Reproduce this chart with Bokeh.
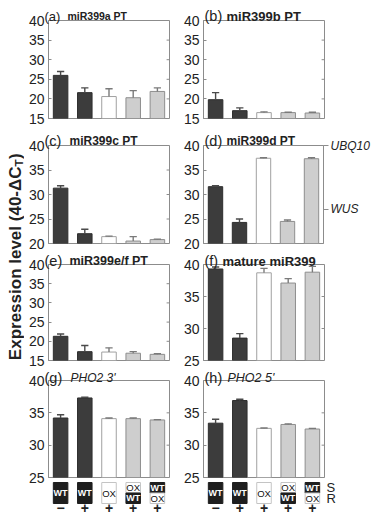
import math
from bokeh.plotting import figure
from bokeh.layouts import row, column
from bokeh.models import (FactorRange, Range1d, LinearAxis, FixedTicker,
                          CustomJSTickFormatter, ColumnDataSource)
from bokeh.transform import dodge
from bokeh.core.properties import value
from bokeh.embed import file_html
from bokeh.resources import INLINE

# ---------------- data ----------------
categories = ["WT/WT −", "WT/WT +", "OX/OX +", "OX/WT +", "WT/OX +"]
scion = ["WT", "WT", "OX", "OX", "WT"]
rootstock = ["WT", "WT", "OX", "WT", "OX"]
treatment = ["−", "+", "+", "+", "+"]

panel_ids = ["(a)", "(b)", "(c)", "(d)", "(e)", "(f)", "(g)", "(h)"]
panel_names = ["miR399a PT", "miR399b PT", "miR399c PT", "miR399d PT",
               "miR399e/f PT", "mature miR399", "PHO2 3'", "PHO2 5'"]
y_starts = [15, 15, 20, 20, 15, 25, 25, 25]
y_end = 40

mir399a_pt = [26.0, 21.6, 20.6, 20.3, 21.9]
mir399a_pt_err = [1.0, 1.2, 2.0, 1.8, 0.9]
mir399b_pt = [19.8, 17.0, 16.5, 16.5, 16.4]
mir399b_pt_err = [1.8, 0.7, 0.2, 0.1, 0.2]
mir399c_pt = [31.3, 22.0, 21.4, 20.5, 20.8]
mir399c_pt_err = [0.5, 0.9, 0.1, 0.9, 0.1]
mir399d_pt = [31.6, 24.3, 37.4, 24.5, 37.3]
mir399d_pt_err = [0.2, 0.7, 0.1, 0.3, 0.2]
mir399ef_pt = [21.3, 17.3, 17.2, 16.9, 16.6]
mir399ef_pt_err = [0.6, 1.6, 1.1, 0.4, 0.2]
mature_mir399 = [39.3, 28.5, 38.7, 37.1, 38.8]
mature_mir399_err = [0.3, 0.7, 0.7, 0.7, 0.9]
pho2_3 = [34.2, 37.3, 34.1, 34.1, 33.9]
pho2_3_err = [0.5, 0.1, 0.1, 0.1, 0.05]
pho2_5 = [33.4, 36.9, 32.6, 33.2, 32.5]
pho2_5_err = [0.6, 0.2, 0.05, 0.1, 0.1]

reference_genes = ["WUS", "UBQ10"]
reference_levels = [27.0, 40.0]

values = [mir399a_pt, mir399b_pt, mir399c_pt, mir399d_pt,
          mir399ef_pt, mature_mir399, pho2_3, pho2_5]
errors = [mir399a_pt_err, mir399b_pt_err, mir399c_pt_err, mir399d_pt_err,
          mir399ef_pt_err, mature_mir399_err, pho2_3_err, pho2_5_err]

# ---------------- style ----------------
FONT = "Liberation Sans"
FRAME_COLOR = "#8c8c8c"
TEXT_COLOR = "#222222"
COL_W = [152, 196]
COL_B = [(24, 7), (27, 48)]
ROWS = [(127, 20, 9), (123, 18, 7), (117, 14, 7), (147, 13, 37)]
TITLE_LIFT = [4.5, 4.5, 3.5, 3.0]
YLAB_W = 24

bar_fill = ["#3c3c3c", "#3c3c3c", "#ffffff", "#cecece", "#cecece"]
bar_line = ["#2e2e2e", "#2e2e2e", "#a0a0a0", "#8e8e8e", "#8e8e8e"]
err_line = ["#4a4a4a", "#4a4a4a", "#7a7a7a", "#7a7a7a", "#7a7a7a"]
geno_fill = {"WT": "#1e1e1e", "OX": "#ffffff"}
geno_line = {"WT": "#1e1e1e", "OX": "#c4c4c4"}
geno_text = {"WT": "#ffffff", "OX": "#111111"}

id_size = ["13px", "14.5px", "14.5px", "14.5px", "14.5px", "14.5px", "14.5px", "14.5px"]
name_size = ["10.5px", "13px", "12px", "12px", "12.5px", "13px", "12px", "12.5px"]
name_style = ["bold"] * 6 + ["italic", "italic"]
id_dx = [-4, 1, -4, 1, -4, 1, -4, 1]
name_dx = [19, 23, 21, 23, 21, 19, 22, 24]


def make_panel(idx):
    col = idx % 2
    h, bt, bb = ROWS[idx // 2]
    lift = TITLE_LIFT[idx // 2]
    fh = h - bt - bb
    bl, br = COL_B[col]
    y0 = y_starts[idx]
    ticks = list(range(y0, y_end + 1, 5))
    n = len(categories)
    p = figure(width=COL_W[col], height=h,
               x_range=FactorRange(*categories), y_range=Range1d(y0, y_end),
               output_backend="svg", toolbar_location=None,
               x_axis_location=None,
               min_border_left=bl, min_border_right=br,
               min_border_top=bt, min_border_bottom=bb,
               background_fill_color="white", border_fill_color="white",
               outline_line_color=FRAME_COLOR, outline_line_width=1)
    p.grid.visible = False
    # pixel range: 0 at frame bottom, fh at frame top
    p.extra_y_ranges = {"px": Range1d(start=0, end=fh)}
    ax = p.yaxis[0]
    ax.ticker = FixedTicker(ticks=ticks)
    ax.major_tick_in = 3
    ax.major_tick_out = 0
    ax.minor_tick_line_color = None
    ax.axis_line_color = FRAME_COLOR
    ax.major_tick_line_color = FRAME_COLOR
    ax.major_label_text_font = FONT
    ax.major_label_text_font_size = "14px"
    ax.major_label_text_color = TEXT_COLOR
    ax.major_label_standoff = 4

    if idx == 3:
        gax = LinearAxis(
            ticker=FixedTicker(ticks=reference_levels),
            formatter=CustomJSTickFormatter(
                args=dict(levels=reference_levels, names=reference_genes),
                code="""
                let best = 0;
                for (let i = 1; i < levels.length; i++) {
                  if (Math.abs(levels[i] - tick) < Math.abs(levels[best] - tick)) best = i;
                }
                return names[best];
                """),
            major_tick_in=0, major_tick_out=5, major_label_standoff=2,
            minor_tick_line_color=None, axis_line_color=FRAME_COLOR,
            major_tick_line_color=FRAME_COLOR,
            major_label_text_font=FONT, major_label_text_font_style="italic",
            major_label_text_font_size="12px", major_label_text_color=TEXT_COLOR)
        p.add_layout(gax, "right")
    else:
        # small inner ticks along the right frame edge
        p.segment(x0=[n - 0.12] * len(ticks), y0=ticks, x1=[n] * len(ticks), y1=ticks,
                  line_color=FRAME_COLOR, line_width=1)

    vals = values[idx]
    errs = errors[idx]
    src = ColumnDataSource(dict(cat=categories, val=vals,
                                top=[v + e for v, e in zip(vals, errs)],
                                fill=bar_fill, line=bar_line, err=err_line))
    p.vbar(x="cat", bottom=y0, top="val", width=0.6, fill_color="fill",
           line_color="line", line_width=1, source=src)
    p.segment(x0="cat", y0="val", x1="cat", y1="top", line_color="err",
              line_width=1.4, source=src)
    p.segment(x0=dodge("cat", -0.15, range=p.x_range), y0="top",
              x1=dodge("cat", 0.15, range=p.x_range), y1="top",
              line_color="err", line_width=1.4, source=src)

    # panel titles, just above the frame top
    p.text(x=[0], y=[fh + lift], text=[panel_ids[idx]], x_offset=id_dx[idx],
           text_font=value(FONT), text_font_size=id_size[idx],
           text_color=TEXT_COLOR, text_baseline="alphabetic", text_align="left",
           y_range_name="px", level="overlay")
    p.text(x=[0], y=[fh + lift], text=[panel_names[idx]], x_offset=name_dx[idx],
           text_font=value(FONT), text_font_style=name_style[idx],
           text_font_size=name_size[idx], text_color=TEXT_COLOR,
           text_baseline="alphabetic", text_align="left",
           y_range_name="px", level="overlay")

    if idx >= 6:
        # genotype strip below the frame (px below frame bottom are negative)
        box = dict(cat=[], y=[], h=[], fill=[], line=[])
        txt = {"WT": dict(cat=[], y=[], text=[]), "OX": dict(cat=[], y=[], text=[])}
        for c, s, r in zip(categories, scion, rootstock):
            if s == r:
                parts = [(s, -15.5, 21.0)]
            else:
                parts = [(s, -10.25, 10.5), (r, -20.75, 10.5)]
            for g, yc, hh in parts:
                box["cat"].append(c); box["y"].append(yc); box["h"].append(hh)
                box["fill"].append(geno_fill[g]); box["line"].append(geno_line[g])
                txt[g]["cat"].append(c); txt[g]["y"].append(yc); txt[g]["text"].append(g)
        p.rect(x="cat", y="y", width=0.6, height="h", fill_color="fill",
               line_color="line", line_width=1, source=ColumnDataSource(box),
               y_range_name="px", level="overlay")
        p.text(x="cat", y="y", text="text", source=ColumnDataSource(txt["WT"]),
               text_font=value(FONT), text_font_style="bold",
               text_font_size="9px", text_color=geno_text["WT"],
               text_align="center", text_baseline="middle",
               y_range_name="px", level="overlay")
        p.text(x="cat", y="y", text="text", source=ColumnDataSource(txt["OX"]),
               text_font=value(FONT), text_font_size="9.5px",
               text_color=geno_text["OX"],
               text_align="center", text_baseline="middle",
               y_range_name="px", level="overlay")
        p.text(x=categories, y=[-30] * n, text=treatment,
               text_font=value(FONT), text_font_style="bold",
               text_font_size="14px", text_color=TEXT_COLOR,
               text_align="center", text_baseline="middle",
               y_range_name="px", level="overlay")
        if idx == 7:
            p.text(x=[n, n], y=[-10.25, -20.75], text=["S", "R"], x_offset=2,
                   text_font=value(FONT), text_font_size="13px",
                   text_color=TEXT_COLOR, text_align="left",
                   text_baseline="middle", y_range_name="px", level="overlay")
    return p


panels = [make_panel(i) for i in range(8)]

# y-axis title in its own narrow figure (data units = pixels, y upward)
TOTAL_H = sum(r[0] for r in ROWS)
yl = figure(width=YLAB_W, height=TOTAL_H, x_range=Range1d(0, YLAB_W),
            y_range=Range1d(0, TOTAL_H), output_backend="svg",
            toolbar_location=None, x_axis_location=None, y_axis_location=None,
            min_border=0, outline_line_color=None,
            background_fill_color="white", border_fill_color="white")
yl.grid.visible = False
anchor_y = TOTAL_H - 166
base_x = 15
yl.text(x=[base_x], y=[anchor_y], text=["Expression level (40-ΔC"], angle=math.pi / 2,
        text_align="right", text_baseline="alphabetic", text_font=value(FONT),
        text_font_style="bold", text_font_size="17px", text_color=TEXT_COLOR)
yl.text(x=[base_x + 3.5], y=[anchor_y], text=["T"], angle=math.pi / 2,
        text_align="left", text_baseline="alphabetic", text_font=value(FONT),
        text_font_style="bold", text_font_size="11.5px", text_color=TEXT_COLOR)
yl.text(x=[base_x], y=[anchor_y + 7.5], text=[")"], angle=math.pi / 2,
        text_align="left", text_baseline="alphabetic", text_font=value(FONT),
        text_font_style="bold", text_font_size="17px", text_color=TEXT_COLOR)

grid = column(row(panels[0], panels[1]), row(panels[2], panels[3]),
              row(panels[4], panels[5]), row(panels[6], panels[7]))
p = row(yl, grid)

open("out.html", "w").write(file_html(p, INLINE))
